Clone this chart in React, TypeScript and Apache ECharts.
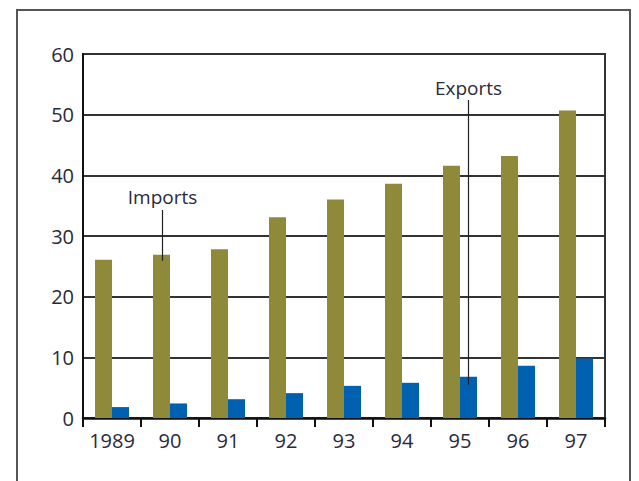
import React, { useEffect, useRef } from "react";
import * as echarts from "echarts";

const categories = ["1989", "90", "91", "92", "93", "94", "95", "96", "97"];
const imports = [26.1, 26.9, 27.8, 33.1, 36.0, 38.6, 41.6, 43.2, 50.7];
const exportsData = [1.8, 2.4, 3.1, 4.1, 5.3, 5.8, 6.8, 8.6, 9.8];
const yTicks = [0, 10, 20, 30, 40, 50, 60];

const FONT = "'Open Sans', sans-serif";

export default function App() {
  const ref = useRef<HTMLDivElement>(null);
  useEffect(() => {
    document.body.style.margin = "0";
    const chart = echarts.init(ref.current!, null, { renderer: "svg" });
    const barW = 17;
    chart.setOption({
      animation: false,
      backgroundColor: "#fff",
      grid: {
        left: 83,
        right: 34,
        top: 54,
        bottom: 63,
        show: true,
        borderColor: "#333",
        borderWidth: 2,
      },
      xAxis: {
        type: "category",
        data: categories,
        axisLine: { lineStyle: { color: "#111", width: 2.5 } },
        axisTick: { show: true, interval: 0, length: 9, lineStyle: { color: "#111", width: 2 } },
        axisLabel: {
          interval: 0,
          hideOverlap: false,
          color: "#2a2a3a",
          fontSize: 20,
          fontFamily: FONT,
          margin: 12,
        },
      },
      yAxis: {
        type: "value",
        min: yTicks[0],
        max: yTicks[yTicks.length - 1],
        interval: 10,
        axisLine: { show: true, lineStyle: { color: "#111", width: 2 } },
        axisTick: { show: false },
        splitLine: { lineStyle: { color: "#333", width: 2 } },
        axisLabel: { color: "#2a2a3a", fontSize: 20, fontFamily: FONT, margin: 9 },
      },
      series: [
        {
          name: "Imports",
          type: "bar",
          data: imports,
          barWidth: barW,
          barGap: "0%",
          itemStyle: { color: "#8e8a3a" },
        },
        {
          name: "Exports",
          type: "bar",
          data: exportsData,
          barWidth: barW,
          barGap: "0%",
          itemStyle: { color: "#0061b0" },
        },
      ],
    });

    const pImp = chart.convertToPixel({ xAxisIndex: 0, yAxisIndex: 0 }, [1, imports[1]]) as number[];
    const pExp = chart.convertToPixel({ xAxisIndex: 0, yAxisIndex: 0 }, [6, exportsData[6]]) as number[];
    const ix = pImp[0] - barW / 2 + 1;
    const ex = pExp[0] + barW / 2;
    chart.setOption({
      graphic: [
        {
          type: "rect",
          shape: { x: 17, y: 10, width: 613, height: 500 },
          style: { fill: "none", stroke: "#555", lineWidth: 2 },
          silent: true,
        },
        {
          type: "line",
          shape: { x1: ix, y1: 210, x2: ix, y2: pImp[1] + 6 },
          style: { stroke: "#222", lineWidth: 1.2 },
          z: 100,
        },
        {
          type: "text",
          x: ix,
          y: 197,
          style: {
            text: "Imports",
            fill: "#2a2a3a",
            font: "19px " + FONT,
            align: "center",
            verticalAlign: "middle",
          },
          z: 100,
        },
        {
          type: "line",
          shape: { x1: ex, y1: 100, x2: ex, y2: pExp[1] + 8 },
          style: { stroke: "#222", lineWidth: 1.2 },
          z: 100,
        },
        {
          type: "text",
          x: ex,
          y: 88,
          style: {
            text: "Exports",
            fill: "#2a2a3a",
            font: "19px " + FONT,
            align: "center",
            verticalAlign: "middle",
          },
          z: 100,
        },
      ],
    });
    return () => chart.dispose();
  }, []);
  return <div ref={ref} style={{ width: 639, height: 481 }} />;
}
